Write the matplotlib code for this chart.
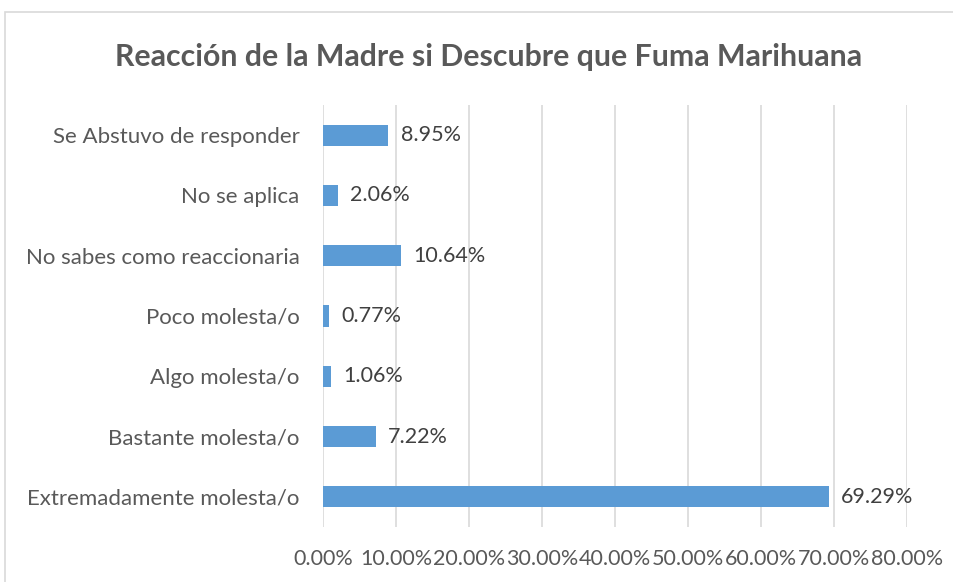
import matplotlib.pyplot as plt
from matplotlib.patches import Rectangle
from matplotlib.ticker import FuncFormatter

plt.rcParams['font.family'] = ['Lato', 'DejaVu Sans']

categories = ["Extremadamente molesta/o", "Bastante molesta/o", "Algo molesta/o",
              "Poco molesta/o", "No sabes como reaccionaria", "No se aplica",
              "Se Abstuvo de responder"]
values = [69.29, 7.22, 1.06, 0.77, 10.64, 2.06, 8.95]
ticks = [0, 10, 20, 30, 40, 50, 60, 70, 80]

text_color = "#595959"
grid_color = "#D9D9D9"
bar_color = "#5B9BD5"

fig = plt.figure(figsize=(9.54, 5.82), dpi=100)
ax = fig.add_axes([323 / 954, 1 - 527 / 582, 584 / 954, 422 / 582])

pos = range(len(categories))
ax.barh(pos, values, height=0.35, color=bar_color, zorder=3)
for y, v in zip(pos, values):
    ax.text(v + 1.7, y, f"{v:.2f}%", va="center", ha="left",
            fontsize=15.5, color="#404040")

ax.set_xlim(0, 80)
ax.set_ylim(-0.5, len(categories) - 0.5)
ax.set_xticks(ticks)
ax.xaxis.set_major_formatter(FuncFormatter(lambda x, _: f"{x:.2f}%"))
ax.set_yticks(list(pos))
ax.set_yticklabels(categories)
ax.tick_params(axis="both", length=0, colors=text_color)
ax.tick_params(axis="y", pad=17, labelsize=16)
ax.tick_params(axis="x", pad=16, labelsize=15.5)
ax.grid(axis="x", color=grid_color, linewidth=1.2, zorder=0)
for s in ax.spines.values():
    s.set_visible(False)

fig.text(489 / 954, 1 - 57 / 582, "Reacción de la Madre si Descubre que Fuma Marihuana",
         ha="center", va="center", fontsize=21.8, fontweight="bold", color=text_color)

fig.patches.append(Rectangle((5 / 954, -0.1), 1.1, 1 - 12 / 582 + 0.1,
                             transform=fig.transFigure, fill=False,
                             edgecolor=grid_color, linewidth=1.2))

fig.savefig("out.png", dpi=100)
